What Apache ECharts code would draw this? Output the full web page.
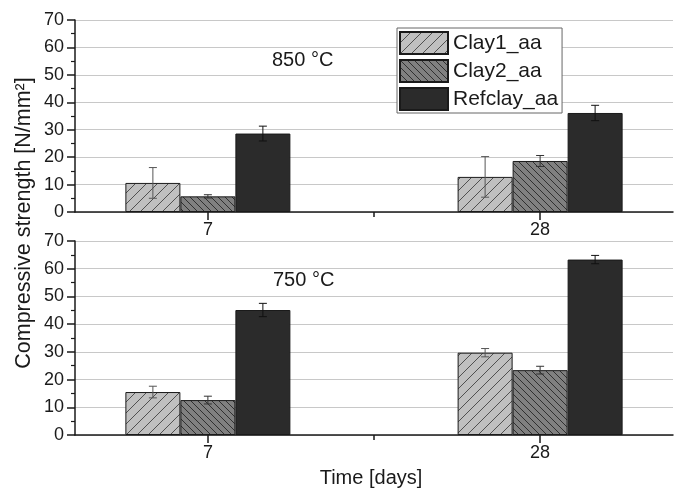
<!DOCTYPE html>
<html>
<head>
<meta charset="utf-8">
<script src="https://cdn.jsdelivr.net/npm/echarts@6/dist/echarts.min.js"></script>
<style>
  html, body { margin: 0; padding: 0; background: #fff; }
  #main { width: 680px; height: 489px; }
</style>
</head>
<body>
<div id="main"></div>
<script>
// 分组（养护天数）
var categories = ['7', '28'];
var seriesNames = ['Clay1_aa', 'Clay2_aa', 'Refclay_aa'];

// 850 °C
var clay1_850 = [10.6, 12.8];
var clay2_850 = [5.7, 18.6];
var ref_850 = [28.6, 36.1];
var clay1_850_err = [5.6, 7.4];
var clay2_850_err = [0.6, 2.0];
var ref_850_err = [2.7, 2.8];

// 750 °C
var clay1_750 = [15.5, 29.7];
var clay2_750 = [12.6, 23.4];
var ref_750 = [45.1, 63.3];
var clay1_750_err = [2.1, 1.5];
var clay2_750_err = [1.4, 1.4];
var ref_750_err = [2.4, 1.5];

var yMin = 0, yMax = 70, yStep = 10;

var FONT = 'Liberation Sans, Arial, sans-serif';
var AXIS_COLOR = '#1a1a1a';
var BAR_W = 55;

/**
 * [生成斜线填充图案]
 */
function hatch(size, bg, lineColor, dir) {
    var c = document.createElement('canvas');
    c.width = size;
    c.height = size;
    var ctx = c.getContext('2d');
    ctx.fillStyle = bg;
    ctx.fillRect(0, 0, size, size);
    if (lineColor) {
        ctx.strokeStyle = lineColor;
        ctx.lineWidth = 1;
        ctx.beginPath();
        for (var k = -1; k <= 1; k++) {
            if (dir > 0) {
                ctx.moveTo(k * size, size);
                ctx.lineTo(k * size + size, 0);
            } else {
                ctx.moveTo(k * size, 0);
                ctx.lineTo(k * size + size, size);
            }
        }
        ctx.stroke();
    }
    return { image: c, repeat: 'repeat' };
}

var fills = [
    hatch(11, '#c0c0c0', '#505050', 1),
    hatch(7, '#808080', '#303030', -1),
    hatch(4, '#2b2b2b', null, 0)
];
var errColors = ['#555', '#333', '#111'];
var offsets = [-BAR_W, 0, BAR_W];

function toPairs(arr) {
    return arr.map(function (v, i) { return [i, v]; });
}

function barSeries(idx, gridIdx, values) {
    return {
        name: seriesNames[idx],
        type: 'bar',
        xAxisIndex: gridIdx * 2,
        yAxisIndex: gridIdx,
        barWidth: BAR_W,
        barGap: '0%',
        itemStyle: { color: fills[idx], borderColor: '#1a1a1a', borderWidth: 1 },
        data: toPairs(values)
    };
}

function errSeries(idx, gridIdx, values, errs) {
    var off = offsets[idx];
    return {
        name: 'err' + idx + '_' + gridIdx,
        type: 'custom',
        xAxisIndex: gridIdx * 2,
        yAxisIndex: gridIdx,
        z: 5,
        encode: { x: 0, y: 1 },
        data: values.map(function (v, i) { return [i, v, errs[i]]; }),
        renderItem: function (params, api) {
            var x = api.value(0), v = api.value(1), e = api.value(2);
            var top = api.coord([x, v + e]);
            var bot = api.coord([x, v - e]);
            var cx = top[0] + off;
            var st = { stroke: errColors[idx], lineWidth: 1 };
            return {
                type: 'group',
                children: [
                    { type: 'line', shape: { x1: cx, y1: top[1], x2: cx, y2: bot[1] }, style: st },
                    { type: 'line', shape: { x1: cx - 4, y1: top[1], x2: cx + 4, y2: top[1] }, style: st },
                    { type: 'line', shape: { x1: cx - 4, y1: bot[1], x2: cx + 4, y2: bot[1] }, style: st }
                ]
            };
        }
    };
}

function xAxes(gridIdx) {
    var line = { color: AXIS_COLOR, width: 1.5 };
    return [{
        gridIndex: gridIdx,
        type: 'value',
        position: 'bottom',
        min: -0.4,
        max: 1.4,
        axisLine: { show: true, onZero: false, lineStyle: line },
        axisTick: { show: true, customValues: [0, 1], length: 8, lineStyle: line },
        axisLabel: {
            customValues: [0, 1],
            formatter: function (v) { return categories[Math.round(v)]; },
            fontSize: 18, color: AXIS_COLOR, fontFamily: FONT, margin: 9
        },
        splitLine: { show: false }
    }, {
        gridIndex: gridIdx,
        type: 'value',
        position: 'bottom',
        min: -0.4,
        max: 1.4,
        axisLine: { show: false, onZero: false },
        axisTick: { show: true, customValues: [0.5], length: 5, lineStyle: line },
        axisLabel: { show: false },
        splitLine: { show: false }
    }];
}

function yAxis(gridIdx) {
    var line = { color: AXIS_COLOR, width: 1.5 };
    return {
        gridIndex: gridIdx,
        type: 'value',
        position: 'left',
        min: yMin,
        max: yMax,
        interval: yStep,
        axisLine: { show: true, onZero: false, lineStyle: line },
        axisTick: { show: true, length: 8, lineStyle: line },
        minorTick: { show: true, splitNumber: 2, length: 4, lineStyle: { color: AXIS_COLOR, width: 1.2 } },
        axisLabel: { fontSize: 18, color: AXIS_COLOR, fontFamily: FONT, margin: 11 },
        splitLine: { show: true, lineStyle: { color: '#c8c8c8', width: 1, type: 'solid' } }
    };
}

var myChart = echarts.init(document.getElementById('main'), null, { renderer: 'canvas' });

var series = [
    barSeries(0, 0, clay1_850), barSeries(1, 0, clay2_850), barSeries(2, 0, ref_850),
    barSeries(0, 1, clay1_750), barSeries(1, 1, clay2_750), barSeries(2, 1, ref_750),
    errSeries(0, 0, clay1_850, clay1_850_err), errSeries(1, 0, clay2_850, clay2_850_err), errSeries(2, 0, ref_850, ref_850_err),
    errSeries(0, 1, clay1_750, clay1_750_err), errSeries(1, 1, clay2_750, clay2_750_err), errSeries(2, 1, ref_750, ref_750_err)
];

myChart.setOption({
    animation: false,
    backgroundColor: '#fff',
    grid: [
        { left: 75, right: 7, top: 20, height: 192 },
        { left: 75, right: 7, top: 241, height: 194 }
    ],
    xAxis: xAxes(0).concat(xAxes(1)),
    yAxis: [yAxis(0), yAxis(1)],
    legend: {
        data: seriesNames,
        orient: 'vertical',
        left: 397,
        top: 28,
        icon: 'rect',
        itemWidth: 48,
        itemHeight: 22,
        itemGap: 4,
        padding: [3, 4, 2, 2],
        borderColor: '#666',
        borderWidth: 1,
        backgroundColor: '#fff',
        textStyle: { fontSize: 21, color: AXIS_COLOR, fontFamily: FONT }
    },
    graphic: [
        { type: 'text', left: 272, top: 50, style: { text: '850 °C', font: '20px ' + FONT, fill: AXIS_COLOR } },
        { type: 'text', left: 273, top: 270, style: { text: '750 °C', font: '20px ' + FONT, fill: AXIS_COLOR } },
        {
            type: 'text', x: 24, y: 223, rotation: Math.PI / 2,
            style: { text: 'Compressive strength [N/mm²]', font: '21.5px ' + FONT, fill: AXIS_COLOR, align: 'center', verticalAlign: 'middle' }
        },
        {
            type: 'text', x: 371, y: 478,
            style: { text: 'Time [days]', font: '20px ' + FONT, fill: AXIS_COLOR, align: 'center', verticalAlign: 'middle' }
        }
    ],
    series: series
});
</script>
</body>
</html>
